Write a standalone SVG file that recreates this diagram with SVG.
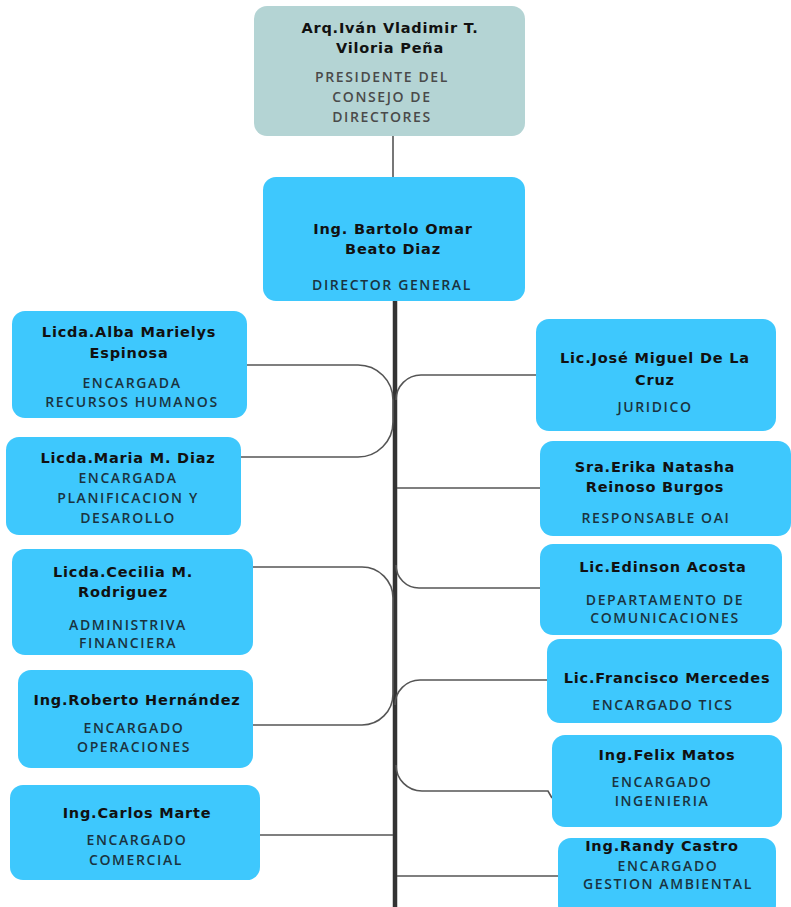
<svg xmlns="http://www.w3.org/2000/svg" width="791" height="907" viewBox="0 0 791 907">
<style>
.box{fill:#3ec8fd}
.top{fill:#b4d4d4}
.n{font-family:"DejaVu Sans",sans-serif;font-weight:bold;font-size:14.5px;letter-spacing:0.8px;fill:#111;text-anchor:middle}
.t{font-family:"Open Sans",sans-serif;font-weight:600;font-size:14px;letter-spacing:1.6px;fill:#1a3340;text-anchor:middle}
.tg{fill:#4a4a4a}
.c{fill:none;stroke:#555;stroke-width:1.6}
</style>
<rect width="791" height="907" fill="#fff"/>
<g id="connectors">
<path class="c" d="M393,136 V177" stroke="#666"/>
<path d="M395,301 V907" stroke="#333" stroke-width="4.5" fill="none"/>
<path class="c" d="M247,365 H358 A35,35 0 0 1 393,400 V422 A35,35 0 0 1 358,457 H241"/>
<path class="c" d="M396,400 A25,25 0 0 1 421,375 H536"/>
<path class="c" d="M397,488 H540"/>
<path class="c" d="M396,565 A23,23 0 0 0 419,588 H540"/>
<path class="c" d="M253,567 H362 A31,31 0 0 1 393,598 V694 A31,31 0 0 1 362,725 H253"/>
<path class="c" d="M395,705 A25,25 0 0 1 420,680 H547"/>
<path class="c" d="M396,765 A26,26 0 0 0 422,791 H548 L552,798"/>
<path class="c" d="M260,835 H393"/>
<path class="c" d="M397,876 H558"/>
</g>
<g id="n-president">
<rect class="top" x="254" y="6" width="271" height="130" rx="13"/>
<text class="n" x="390" y="33">Arq.Iván Vladimir T.</text>
<text class="n" x="390" y="53">Viloria Peña</text>
<text class="t tg" x="382" y="82">PRESIDENTE DEL</text>
<text class="t tg" x="382" y="102">CONSEJO DE</text>
<text class="t tg" x="382" y="122">DIRECTORES</text>
</g>
<g id="n-director">
<rect class="box" x="263" y="177" width="262" height="124" rx="13"/>
<text class="n" x="393" y="234">Ing. Bartolo Omar</text>
<text class="n" x="393" y="254">Beato Diaz</text>
<text class="t" x="392" y="290">DIRECTOR GENERAL</text>
</g>
<g id="n-alba">
<rect class="box" x="12" y="311" width="235" height="107" rx="13"/>
<text class="n" x="129" y="337">Licda.Alba Marielys</text>
<text class="n" x="129" y="358">Espinosa</text>
<text class="t" x="132" y="388">ENCARGADA</text>
<text class="t" x="132" y="407">RECURSOS HUMANOS</text>
</g>
<g id="n-maria">
<rect class="box" x="6" y="437" width="235" height="98" rx="13"/>
<text class="n" x="128" y="463">Licda.Maria M. Diaz</text>
<text class="t" x="128" y="483">ENCARGADA</text>
<text class="t" x="128" y="503">PLANIFICACION Y</text>
<text class="t" x="128" y="523">DESAROLLO</text>
</g>
<g id="n-cecilia">
<rect class="box" x="12" y="549" width="241" height="106" rx="13"/>
<text class="n" x="123" y="577">Licda.Cecilia M.</text>
<text class="n" x="123" y="597">Rodriguez</text>
<text class="t" x="128" y="630">ADMINISTRIVA</text>
<text class="t" x="128" y="648">FINANCIERA</text>
</g>
<g id="n-roberto">
<rect class="box" x="18" y="670" width="235" height="98" rx="13"/>
<text class="n" x="137" y="705">Ing.Roberto Hernández</text>
<text class="t" x="134" y="733">ENCARGADO</text>
<text class="t" x="134" y="752">OPERACIONES</text>
</g>
<g id="n-carlos">
<rect class="box" x="10" y="785" width="250" height="95" rx="13"/>
<text class="n" x="137" y="818">Ing.Carlos Marte</text>
<text class="t" x="137" y="845">ENCARGADO</text>
<text class="t" x="136" y="865">COMERCIAL</text>
</g>
<g id="n-jose">
<rect class="box" x="536" y="319" width="240" height="112" rx="13"/>
<text class="n" x="655" y="363">Lic.José Miguel De La</text>
<text class="n" x="655" y="385">Cruz</text>
<text class="t" x="655" y="412">JURIDICO</text>
</g>
<g id="n-erika">
<rect class="box" x="540" y="441" width="251" height="95" rx="13"/>
<text class="n" x="655" y="472">Sra.Erika Natasha</text>
<text class="n" x="655" y="492">Reinoso Burgos</text>
<text class="t" x="656" y="523">RESPONSABLE OAI</text>
</g>
<g id="n-edinson">
<rect class="box" x="540" y="544" width="242" height="91" rx="13"/>
<text class="n" x="663" y="572">Lic.Edinson Acosta</text>
<text class="t" x="665" y="605">DEPARTAMENTO DE</text>
<text class="t" x="665" y="623">COMUNICACIONES</text>
</g>
<g id="n-francisco">
<rect class="box" x="547" y="639" width="235" height="84" rx="13"/>
<text class="n" x="667" y="683">Lic.Francisco Mercedes</text>
<text class="t" x="663" y="710">ENCARGADO TICS</text>
</g>
<g id="n-felix">
<rect class="box" x="552" y="735" width="230" height="92" rx="13"/>
<text class="n" x="667" y="760">Ing.Felix Matos</text>
<text class="t" x="662" y="787">ENCARGADO</text>
<text class="t" x="662" y="806">INGENIERIA</text>
</g>
<g id="n-randy">
<rect class="box" x="558" y="838" width="218" height="80" rx="13"/>
<text class="n" x="662" y="851">Ing.Randy Castro</text>
<text class="t" x="668" y="871">ENCARGADO</text>
<text class="t" x="668" y="889">GESTION AMBIENTAL</text>
</g>
</svg>
